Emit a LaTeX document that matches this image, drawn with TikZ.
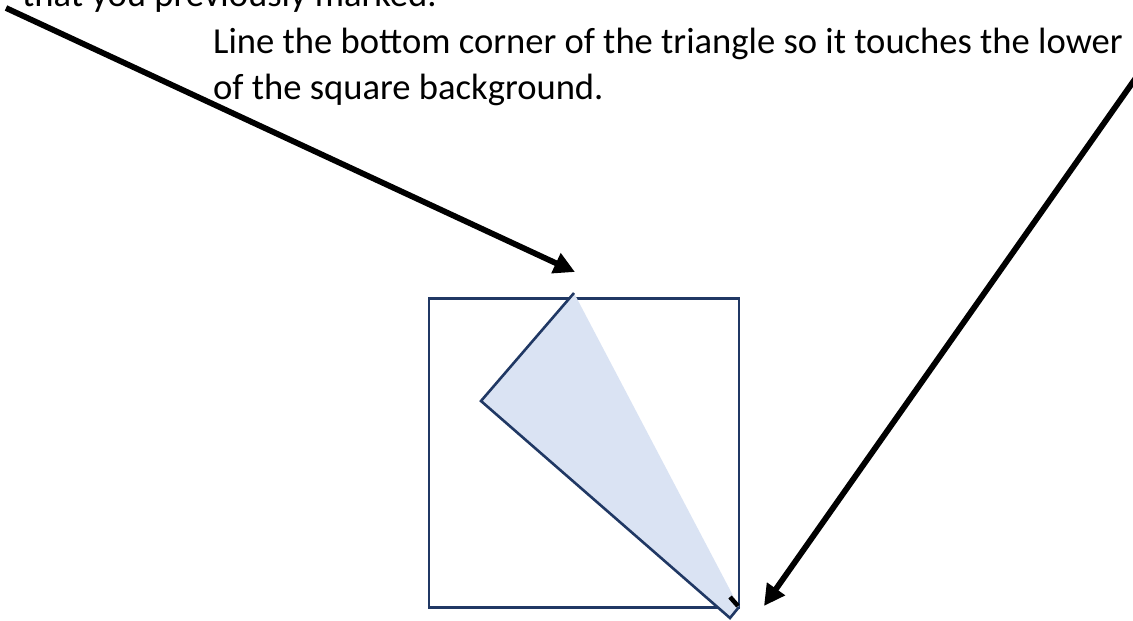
\documentclass[tikz,border=0pt]{standalone}
\usepackage{fontspec}
\setmainfont{Carlito}
\usetikzlibrary{arrows.meta}
\definecolor{navy}{HTML}{203864}
\definecolor{lightfill}{HTML}{DAE3F3}
\tikzset{
  pointer/.style={line width=5.8pt, -{Triangle[length=21pt,width=21pt]}},
  frame/.style={draw=navy, line width=2.6pt},
  caption/.style={anchor=base west, inner sep=0pt, font=\fontsize{36.6}{44}\selectfont}
}
\begin{document}
\begin{tikzpicture}[x=1pt,y=-1pt]
\useasboundingbox (0,0) rectangle (1133,621);
\clip (0,0) rectangle (1133,621);
\fill[white] (0,0) rectangle (1133,621);
% text
\node[caption] (t0) at (22,6.5) {that you previously marked.};
\node[caption] (t1) at (213,53) {Line the bottom corner of the triangle so it touches the lower};
\node[caption] (t2) at (213,99.5) {of the square background.};
% square
\node[frame, minimum width=310pt, minimum height=309pt, inner sep=0pt] (sq) at (584,453) {};
% triangle
\coordinate (T) at (574,293);
\coordinate (L) at (481,401);
\coordinate (B) at (730,618);
\coordinate (R) at (739,607);
\fill[lightfill] (T) -- (L) -- (B) -- (R) -- cycle;
\draw[navy, line width=2.6pt, line join=miter] (T) -- (L) -- (B) -- (R);
% arrows
\coordinate (a1s) at (6,8);
\coordinate (a1e) at (575,272);
\coordinate (a2s) at (1140,72);
\coordinate (a2e) at (764,606);
\draw[pointer] (a1s) -- (a1e);
\draw[pointer] (a2s) -- (a2e);
\coordinate (m1) at (730,597);
\coordinate (m2) at (738,606);
\draw[line width=4.5pt] (m1) -- (m2);
\end{tikzpicture}
\end{document}
